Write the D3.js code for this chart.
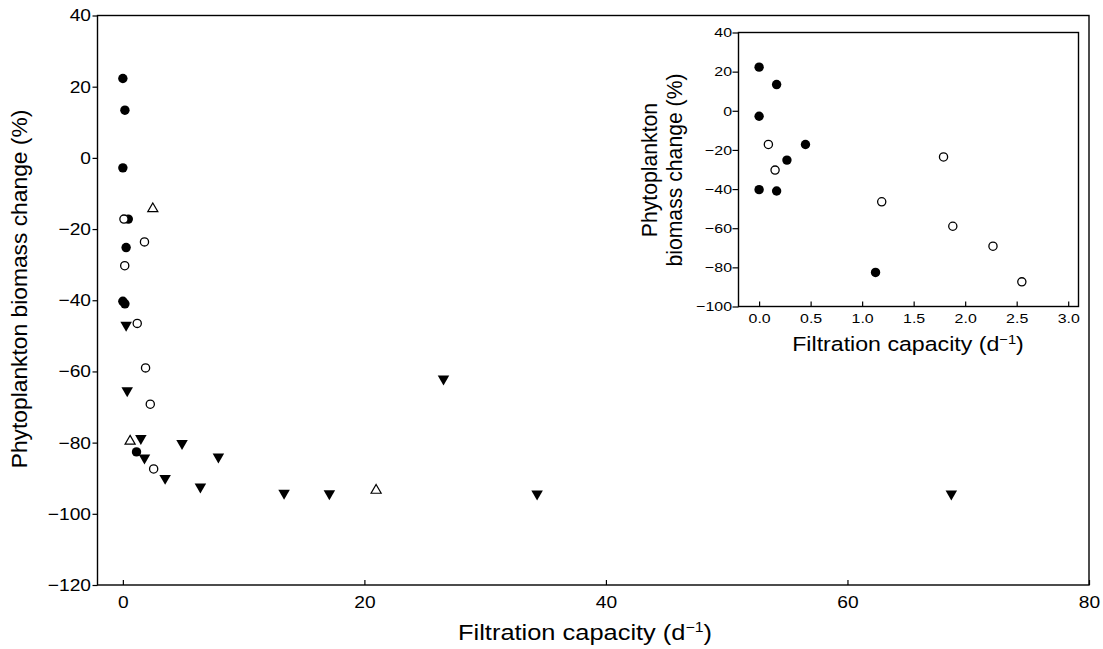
<!DOCTYPE html>
<html>
<head>
<meta charset="utf-8">
<script src="https://cdn.jsdelivr.net/npm/d3@7"></script>
<style>
  body { margin: 0; background: #fff; }
  svg { font-family: "Liberation Sans", Arial, sans-serif; }
</style>
</head>
<body>
<svg id="chart" width="1103" height="649"></svg>
<script>
const svg = d3.select("#chart");

// filled circles and open circles appear in both main plot and inset
const filledCircles = [
    { x: 0.0, y: 22.3 }, { x: 0.17, y: 13.4 }, { x: 0.0, y: -2.8 },
    { x: 0.45, y: -17.2 }, { x: 0.27, y: -25.2 }, { x: 0.0, y: -40.3 },
    { x: 0.17, y: -41.0 }, { x: 1.13, y: -82.6 }
];
const openCircles = [
    { x: 0.09, y: -17.2 }, { x: 0.155, y: -30.3 }, { x: 1.79, y: -23.6 },
    { x: 1.19, y: -46.5 }, { x: 1.88, y: -59.0 }, { x: 2.27, y: -69.2 },
    { x: 2.55, y: -87.4 }
];
const filledTriangles = [
    { x: 0.27, y: -47.0 }, { x: 0.36, y: -65.4 }, { x: 1.49, y: -78.8 },
    { x: 1.79, y: -84.3 }, { x: 3.5, y: -90.0 }, { x: 4.9, y: -80.2 },
    { x: 6.42, y: -92.4 }, { x: 7.91, y: -84.0 }, { x: 13.35, y: -94.2 },
    { x: 17.1, y: -94.3 }, { x: 26.55, y: -62.1 }, { x: 34.3, y: -94.4 },
    { x: 68.6, y: -94.4 }
];
const openTriangles = [
    { x: 2.48, y: -14.3 }, { x: 0.6, y: -79.6 }, { x: 20.97, y: -93.4 }
];

const mainXTicks = [0, 20, 40, 60, 80];
const mainYTicks = [-120, -100, -80, -60, -40, -20, 0, 20, 40];
const insetXTicks = [0, 0.5, 1, 1.5, 2, 2.5, 3];
const insetYTicks = [-100, -80, -60, -40, -20, 0, 20, 40];

const xscale = d3.scaleLinear().domain([-2.1, 80]).range([97.5, 1089]);
const yscale = d3.scaleLinear().domain([-120, 40]).range([585, 15.5]);
const ixscale = d3.scaleLinear().domain([-0.2, 3.1]).range([738.5, 1078.5]);
const iyscale = d3.scaleLinear().domain([-100, 40]).range([306.5, 32.5]);

const STRETCH = 1.13; // the original lettering is a bit wider than Arial
const minus = v => (v < 0 ? "\u2212" + Math.abs(v) : "" + v);

function drawFrame(g, x, y) {
    g.append("rect")
        .attr("x", x.range()[0])
        .attr("y", y.range()[1])
        .attr("width", x.range()[1] - x.range()[0])
        .attr("height", y.range()[0] - y.range()[1])
        .attr("fill", "white")
        .attr("stroke", "black")
        .attr("stroke-width", 1.4);
}

function drawAxes(g, x, y, opts) {
    const xAxis = d3.axisBottom(x).tickValues(opts.xt).tickSizeInner(-5).tickSizeOuter(0)
        .tickPadding(opts.xpad).tickFormat(opts.xfmt);
    const yAxis = d3.axisLeft(y).tickValues(opts.yt).tickSizeInner(opts.ytick).tickSizeOuter(0)
        .tickFormat(opts.yfmt);
    const gx = g.append("g").attr("transform", `translate(0,${y.range()[0]})`).call(xAxis);
    const gy = g.append("g").attr("transform", `translate(${x.range()[0]},0)`).call(yAxis);
    for (const a of [gx, gy]) {
        a.select(".domain").remove();
        a.selectAll("line").attr("stroke-width", 1.2);
        a.selectAll("text").attr("font-size", opts.fs).attr("fill", "black")
            .attr("font-family", "Liberation Sans, Arial, sans-serif")
            .attr("transform", `scale(${opts.sx},1)`);
    }
    // keep right edge of y labels next to the tick after stretching
    gy.selectAll("text").attr("x", -(opts.ytick + opts.ypad) / opts.sx);
}

function drawPoints(g, x, y, groups, r) {
    const circ = groups.circles;
    g.selectAll(".fc").data(circ.filled).join("circle")
        .attr("class", "fc")
        .attr("cx", d => x(d.x)).attr("cy", d => y(d.y)).attr("r", r)
        .attr("fill", "black");
    g.selectAll(".oc").data(circ.open).join("circle")
        .attr("class", "oc")
        .attr("cx", d => x(d.x)).attr("cy", d => y(d.y)).attr("r", r - 0.6)
        .attr("fill", "white").attr("stroke", "black").attr("stroke-width", 1.3);
    if (groups.filledTri) {
        g.selectAll(".ft").data(groups.filledTri).join("path")
            .attr("class", "ft")
            .attr("d", d3.symbol().type(d3.symbolTriangle).size(r * r * 2.6))
            .attr("transform", d => `translate(${x(d.x)},${y(d.y)}) rotate(180)`)
            .attr("fill", "black");
        g.selectAll(".ot").data(groups.openTri).join("path")
            .attr("class", "ot")
            .attr("d", d3.symbol().type(d3.symbolTriangle).size(r * r * 2.0))
            .attr("transform", d => `translate(${x(d.x)},${y(d.y)})`)
            .attr("fill", "white").attr("stroke", "black").attr("stroke-width", 1.2);
    }
}

function xTitle(g, cx, y, fs, sfs, sdy) {
    const t = g.append("text")
        .attr("transform", `translate(${cx},${y}) scale(${STRETCH},1)`)
        .attr("text-anchor", "middle")
        .attr("font-size", fs);
    t.append("tspan").text("Filtration capacity (d");
    t.append("tspan").attr("font-size", sfs).attr("dy", -sdy).text("\u22121");
    t.append("tspan").attr("dy", sdy).text(")");
}

// main plot
const main = svg.append("g");
drawFrame(main, xscale, yscale);
drawAxes(main, xscale, yscale, {
    xt: mainXTicks, yt: mainYTicks, xfmt: d => d, yfmt: minus,
    fs: 17, sx: STRETCH, xpad: 10.5, ytick: 5, ypad: 1.5
});
drawPoints(main, xscale, yscale, {
    circles: { filled: filledCircles, open: openCircles },
    filledTri: filledTriangles, openTri: openTriangles
}, 4.7);

main.append("text")
    .attr("transform", `translate(27,289) rotate(-90)`)
    .attr("text-anchor", "middle")
    .attr("font-size", 22.8)
    .text("Phytoplankton biomass change (%)");

xTitle(main, 585, 640, 22.5, 14, 8);

// inset
const inset = svg.append("g");
drawFrame(inset, ixscale, iyscale);
drawAxes(inset, ixscale, iyscale, {
    xt: insetXTicks, yt: insetYTicks, xfmt: d3.format(".1f"), yfmt: minus,
    fs: 13.5, sx: 1.18, xpad: 6.8, ytick: 6, ypad: 0.5
});
drawPoints(inset, ixscale, iyscale, {
    circles: { filled: filledCircles, open: openCircles }
}, 4.7);

const il = inset.append("text")
    .attr("transform", `translate(657,170) rotate(-90)`)
    .attr("text-anchor", "middle")
    .attr("font-size", 21.2);
il.append("tspan").attr("x", 0).attr("dy", 0).text("Phytoplankton");
il.append("tspan").attr("x", 0).attr("dy", 25).text("biomass change (%)");

xTitle(inset, 908, 351, 20.5, 13, 7);
</script>
</body>
</html>
